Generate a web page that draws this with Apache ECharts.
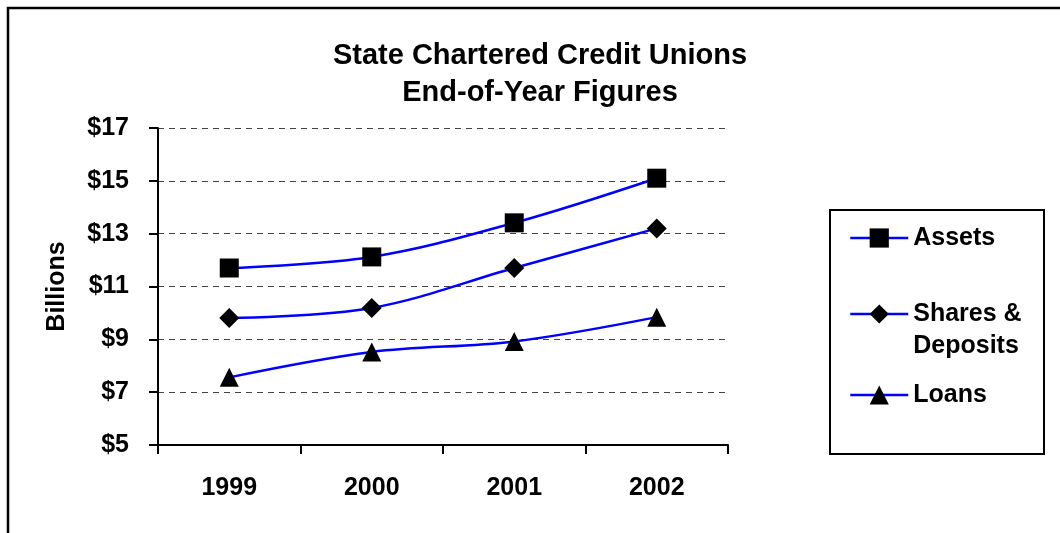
<!DOCTYPE html>
<html>
<head>
<meta charset="utf-8">
<script src="https://cdn.jsdelivr.net/npm/echarts@6/dist/echarts.min.js"></script>
<style>
  html, body { margin: 0; padding: 0; background: #fff; }
  #chart { width: 1060px; height: 533px; }
</style>
</head>
<body>
<div id="chart"></div>
<script>
// Year-end totals, billions of dollars
const years = ['1999', '2000', '2001', '2002'];
const assets = [11.70, 12.12, 13.41, 15.10];
const sharesDeposits = [9.81, 10.19, 11.70, 13.20];
const loans = [7.56, 8.52, 8.92, 9.84];
const seriesNames = ['Assets', 'Shares & Deposits', 'Loans'];
const yMin = 5, yMax = 17, yStep = 2;

const FONT = 'Liberation Sans, Arial, sans-serif';
const BLUE = '#0000ff';

function lineSeries(name, data, symbol, size) {
  return {
    name: name,
    type: 'line',
    data: data,
    smooth: 0.35,
    symbol: symbol,
    symbolSize: size,
    lineStyle: { color: BLUE, width: 2.5 },
    itemStyle: { color: '#000' },
    emphasis: { disabled: true },
    z: 3
  };
}

// One legend block per series so each entry sits at its own height;
// the two-line entry gets a blank lead line so its icon lines up with "Shares &".
function legendFor(name, top, lineHeight) {
  return {
    data: [name],
    orient: 'vertical',
    left: 849,
    top: top,
    padding: 0,
    itemWidth: 58,
    itemHeight: 24,
    itemGap: 0,
    selectedMode: false,
    lineStyle: { width: 2.5 },
    formatter: n => n === 'Shares & Deposits' ? '\nShares &\nDeposits' : n,
    textStyle: {
      fontFamily: FONT, fontWeight: 'bold', fontSize: 25, color: '#000',
      lineHeight: lineHeight
    }
  };
}

const chart = echarts.init(document.getElementById('chart'), null, { renderer: 'canvas' });
chart.setOption({
  animation: false,
  backgroundColor: '#fff',
  title: {
    text: 'State Chartered Credit Unions\nEnd-of-Year Figures',
    left: 535,
    top: 32,
    textAlign: 'center',
    textStyle: { fontFamily: FONT, fontWeight: 'bold', fontSize: 29, lineHeight: 37, color: '#000' }
  },
  grid: { left: 158, right: 332, top: 128, bottom: 88, containLabel: false },
  xAxis: {
    type: 'category',
    data: years,
    boundaryGap: true,
    axisLine: { lineStyle: { color: '#000', width: 2 } },
    axisTick: { show: true, length: 9, lineStyle: { color: '#000', width: 2 } },
    axisLabel: { margin: 31, fontFamily: FONT, fontWeight: 'bold', fontSize: 25, color: '#000' },
    splitLine: { show: false }
  },
  yAxis: {
    type: 'value',
    min: yMin,
    max: yMax,
    interval: yStep,
    name: 'Billions',
    nameLocation: 'middle',
    nameGap: 88,
    nameRotate: 90,
    nameTextStyle: { fontFamily: FONT, fontWeight: 'bold', fontSize: 25, color: '#000' },
    axisLine: { show: true, lineStyle: { color: '#000', width: 2 } },
    axisTick: { show: true, length: 9, lineStyle: { color: '#000', width: 2 } },
    axisLabel: { margin: 29, fontFamily: FONT, fontWeight: 'bold', fontSize: 25, color: '#000', formatter: v => '$' + v },
    splitLine: { show: true, lineStyle: { color: '#444', width: 1, type: [6, 5] } }
  },
  legend: [
    legendFor(seriesNames[0], 223, 30),
    legendFor(seriesNames[1], 266, 32),
    legendFor(seriesNames[2], 380, 30)
  ],
  graphic: [
    // outer frame, left and top edges
    { type: 'polyline', shape: { points: [[8, 533], [8, 8], [1060, 8]] }, style: { stroke: '#000', lineWidth: 2.5, fill: null }, silent: true },
    // legend frame
    { type: 'rect', shape: { x: 830, y: 210, width: 214, height: 244 }, style: { stroke: '#000', lineWidth: 2, fill: null }, silent: true, z: -1 }
  ],
  series: [
    lineSeries(seriesNames[0], assets, 'rect', 19),
    lineSeries(seriesNames[1], sharesDeposits, 'diamond', 20),
    lineSeries(seriesNames[2], loans, 'triangle', 19)
  ]
});
</script>
</body>
</html>
